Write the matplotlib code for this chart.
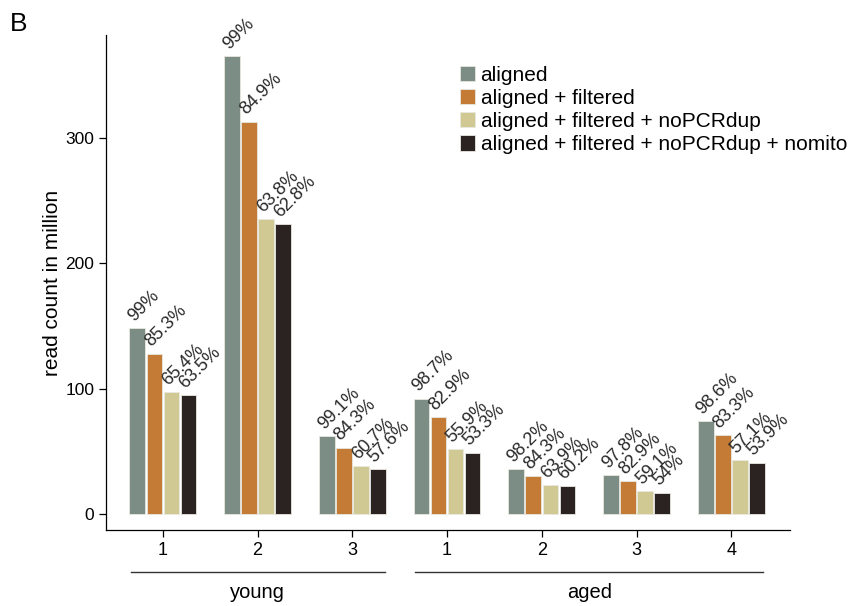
import matplotlib.pyplot as plt
import matplotlib.transforms as mtransforms
import numpy as np

plt.rcParams.update({
    'font.family': ['Liberation Sans', 'DejaVu Sans'],
    'font.size': 12.5,
    'axes.linewidth': 0.9,
})

# samples (x tick labels) and their groups
samples = ['1', '2', '3', '1', '2', '3', '4']
groups = ['young', 'aged']
group_sizes = [3, 4]

series = ['aligned', 'aligned + filtered', 'aligned + filtered + noPCRdup',
          'aligned + filtered + noPCRdup + nomito']

# read counts in million
aligned = [148, 365, 62, 92, 36, 31, 74]
filtered = [128, 313, 53, 77, 30, 26, 63]
nopcrdup = [97, 235, 38, 52, 23, 18, 43]
nomito = [95, 231, 36, 49, 22, 17, 41]

# percent labels above the bars
pct_aligned = ['99%', '99%', '99.1%', '98.7%', '98.2%', '97.8%', '98.6%']
pct_filtered = ['85.3%', '84.9%', '84.3%', '82.9%', '84.3%', '82.9%', '83.3%']
pct_nopcrdup = ['65.4%', '63.8%', '60.7%', '55.9%', '63.9%', '59.1%', '57.1%']
pct_nomito = ['63.5%', '62.8%', '57.6%', '53.3%', '60.2%', '54%', '53.9%']

colors = ['#7B8D85', '#C47B35', '#D0C993', '#2B2322']

values = [aligned, filtered, nopcrdup, nomito]
labels = [pct_aligned, pct_filtered, pct_nopcrdup, pct_nomito]

fig = plt.figure(figsize=(8.55, 6.06), dpi=100)
ax = fig.add_axes([0.124, 0.125, 0.8, 0.817])

x = np.arange(len(samples))
step = 0.18
width = 0.165

for i, (vals, labs, name) in enumerate(zip(values, labels, series)):
    xpos = x + (i - 1.5) * step
    ax.bar(xpos, vals, width, color=colors[i], edgecolor='#E8E8E0',
           linewidth=0.6, label=name)
    for xp, v, t in zip(xpos, vals, labs):
        ax.text(xp - width * 0.2, v + 5, t, rotation=45, rotation_mode='anchor',
                ha='left', va='baseline', fontsize=13, color='#2a2a2a')

ax.set_xlim(-0.6, 6.62)
ax.set_ylim(-13, 382)
ax.set_yticks([0, 100, 200, 300])
ax.set_xticks(x)
ax.set_xticklabels(samples, fontsize=13)
ax.set_ylabel('read count in million', fontsize=15, labelpad=2)
ax.tick_params(direction='out', length=5, width=0.9)
ax.spines['top'].set_visible(False)
ax.spines['right'].set_visible(False)

# group lines and labels under the sample ticks
trans = mtransforms.blended_transform_factory(ax.transData, ax.transAxes)
start = 0
for g, n in zip(groups, group_sizes):
    x0, x1 = start - 0.34, start + n - 1 + 0.34
    ax.plot([x0, x1], [-0.085, -0.085], transform=trans, color='#333333',
            linewidth=1.0, clip_on=False)
    ax.text((x0 + x1) / 2, -0.125, g, transform=trans, ha='center',
            va='center', fontsize=14.5)
    start += n

ax.legend(loc='upper left', bbox_to_anchor=(0.505, 0.955), frameon=False,
          fontsize=15, handlelength=0.75, handleheight=0.75,
          handletextpad=0.25, labelspacing=0.2, borderaxespad=0)

fig.text(0.011, 0.96, 'B', fontsize=19, ha='left', va='center')

fig.savefig('out.png', dpi=100, facecolor='white')
